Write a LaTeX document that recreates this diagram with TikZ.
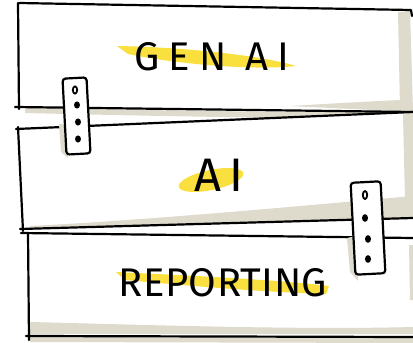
\documentclass[tikz,border=0pt]{standalone}
\usepackage{fontspec}
\newfontfamily\handfont{Fira Sans}
\definecolor{paperbeige}{RGB}{222,218,204}
\definecolor{markeryellow}{RGB}{250,224,62}
\tikzset{
  sheet/.style={
    fill=white
  },
  shade/.style={
    fill=paperbeige
  },
  marker/.style={
    fill=markeryellow
  },
  edge/.style={
    line width=2.2pt,
    line cap=round,
    line join=round
  },
  word/.style={
    inner sep=0pt,
    text=black
  },
  clipbox/.style={
    draw,
    line width=2.2pt,
    fill=white,
    rounded corners=3pt,
    inner sep=0pt
  },
  hole/.style={
    fill=black
  }
}

\begin{document}
\begin{tikzpicture}[x=1pt,y=-1pt]
\useasboundingbox (0,0) rectangle (413,343);

% top sheet
\fill[sheet] (18,4) -- (413,10) -- (413,112) -- (18,107) -- cycle;
\fill[shade] (398,12) -- (410,11) -- (413,111) -- (400,108) -- cycle;
\fill[shade] (290,106) .. controls (340,103) and (380,101) .. (400,100) -- (413,112) -- cycle;
\fill[shade] (25,108) .. controls (150,110) and (300,113) .. (413,112) -- (413,118) .. controls (300,119) and (150,116) .. (25,113) -- cycle;
\draw[edge] (19,3) -- (411,10) -- (412,16);
\draw[edge] (18,3) -- (19,109);
\draw[edge] (15,107) -- (413,112);

% middle sheet
\fill[sheet] (18,128) -- (413,112) -- (413,218) -- (22,229) -- cycle;
\fill[shade] (403,114) -- (413,113) -- (413,205) -- (405,200) -- cycle;
\fill[shade] (30,226) .. controls (150,220) and (300,206) .. (413,196) -- (413,218) -- (30,228) -- cycle;
\draw[edge] (16,129) -- (413,112);
\draw[edge] (18,127) -- (23,231);
\draw[edge] (20,229) -- (413,218);

% bottom sheet
\fill[sheet] (22,233) -- (413,238) -- (413,337) -- (28,336) -- cycle;
\fill[shade] (30,322) .. controls (150,325) and (300,330) .. (413,327) -- (413,334) -- (30,334) -- cycle;
\fill[shade] (30,337) -- (413,338) -- (413,343) -- (30,342) -- cycle;
\fill[shade] (409,245) -- (413,245) -- (413,300) -- (410,300) -- cycle;
\draw[edge] (21,233) -- (413,238);
\draw[edge] (28,233) -- (29,340);
\draw[edge] (26,336) -- (413,337);

% highlighter strokes
\fill[marker] (117,46) .. controls (180,47) and (260,55) .. (296,66) .. controls (250,71) and (170,63) .. (128,54) -- cycle;
\fill[marker, rotate around={12:(211,180)}] (211,180) ellipse (33 and 10);
\fill[marker] (116,272) .. controls (200,276) and (280,280) .. (329,286) -- (326,294) .. controls (260,292) and (180,285) .. (125,280) -- cycle;

% labels
\node[word, font={\handfont\fontsize{40}{40}\selectfont\addfontfeatures{LetterSpace=22}}] (genai) at (212,57) {GEN AI};
\node[word, font={\handfont\fontsize{47}{47}\selectfont\addfontfeatures{LetterSpace=18}}] (ai) at (219,175) {AI};
\node[word, font={\handfont\fontsize{40}{40}\selectfont\addfontfeatures{LetterSpace=1}}] (reporting) at (223,283) {REPORTING};

% clips
\fill[shade] (59,124) -- (66,124) -- (68,158) -- (61,152) -- cycle;
\node[clipbox, minimum width=24pt, minimum height=76pt, rotate=3] (clipA) at (76.5,116) {};
\draw[line width=1.8pt] (75,90) ellipse (2.2 and 3.6);
\foreach \y/\x in {105/77, 122/78, 139/78}
  \fill[hole] (\x,\y) ellipse (3 and 3.6);

\fill[shade] (347,238) -- (356,236) -- (358,281) -- (350,272) -- cycle;
\node[clipbox, minimum width=30pt, minimum height=92pt, rotate=3] (clipB) at (368,228) {};
\draw[line width=1.8pt] (365,195) ellipse (2.2 and 4);
\foreach \y/\x in {218/365, 239/368, 259/368}
  \fill[hole] (\x,\y) ellipse (3 and 3.8);
\end{tikzpicture}
\end{document}
